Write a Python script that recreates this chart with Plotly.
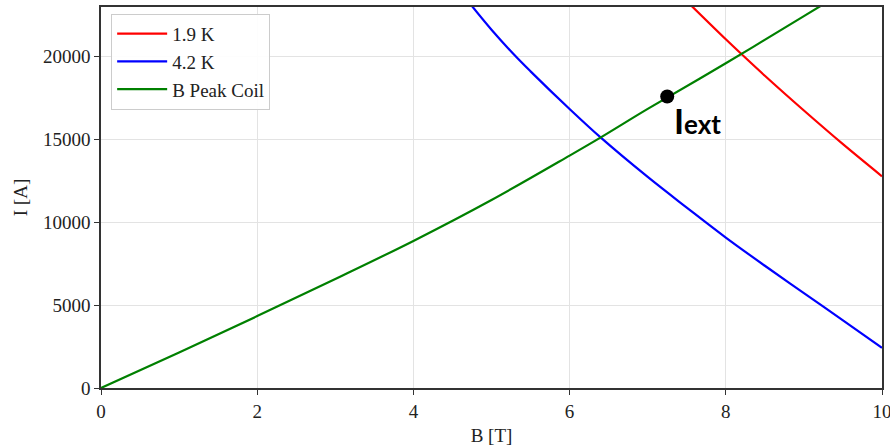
import plotly.graph_objects as go

# Critical current vs field for two temperatures, and the coil load line
b_19k = [7.5, 8.0, 8.2, 8.5, 9.0, 9.5, 10.0]
i_19k = [23350, 21050, 20160, 18850, 16750, 14720, 12780]

b_42k = [4.75, 5.0, 5.3, 5.5, 6.0, 6.4, 7.0, 7.5, 8.0, 8.5, 9.0, 9.5, 10.0]
i_42k = [23055, 21630, 20070, 19115, 16840, 15110, 12740, 10890, 9080, 7380, 5730, 4080, 2430]

b_coil = [0, 1, 2, 3, 4, 5, 6, 6.4, 7, 8, 9, 9.5]
i_coil = [0, 2150, 4340, 6580, 8880, 11350, 14030, 15130, 16850, 19600, 22450, 23880]

# Operating point on the load line
b_ext = [7.25]
i_ext = [17600]

x_ticks = [0, 2, 4, 6, 8, 10]
y_ticks = [0, 5000, 10000, 15000, 20000]

serif = "Liberation Serif"
ink = "#222222"

fig = go.Figure()
fig.add_trace(go.Scatter(x=b_19k, y=i_19k, mode="lines", name="1.9 K",
                         line=dict(color="#ff0000", width=2.2, shape="spline")))
fig.add_trace(go.Scatter(x=b_42k, y=i_42k, mode="lines", name="4.2 K",
                         line=dict(color="#0000ff", width=2.2, shape="spline")))
fig.add_trace(go.Scatter(x=b_coil, y=i_coil, mode="lines", name="B Peak Coil",
                         line=dict(color="#008000", width=2.2, shape="spline")))
fig.add_trace(go.Scatter(x=b_ext, y=i_ext, mode="markers", showlegend=False,
                         marker=dict(color="black", size=14)))

fig.add_annotation(x=b_ext[0], y=i_ext[0], xref="x", yref="y",
                   text="<b>I<span style='font-size:26px'>ext</span></b>",
                   showarrow=False, xanchor="left", yanchor="top",
                   xshift=5, yshift=-2,
                   font=dict(family="Lato", size=34, color="black"))

axis_common = dict(
    showline=True, linecolor="#333333", linewidth=1.5, mirror=True,
    ticks="outside", ticklen=5, tickwidth=1.3, tickcolor="#333333",
    showgrid=True, gridcolor="#e3e3e3", gridwidth=1,
    zeroline=False, automargin=False, ticklabeloverflow="allow",
    tickfont=dict(family=serif, size=19, color=ink),
)

fig.update_xaxes(range=[0, 10], tickvals=x_ticks,
                 title=dict(text="B [T]", font=dict(family=serif, size=19, color=ink),
                            standoff=8),
                 **axis_common)
fig.update_yaxes(range=[0, 23000], tickvals=y_ticks, tickformat="d",
                 title=dict(text="I [A]", font=dict(family=serif, size=19, color=ink),
                            standoff=10),
                 **axis_common)

fig.update_layout(
    width=890, height=448,
    margin=dict(l=101, r=8, t=7, b=60),
    paper_bgcolor="white", plot_bgcolor="white",
    legend=dict(x=0.013, y=0.982, xanchor="left", yanchor="top",
                bgcolor="rgba(255,255,255,0.9)", bordercolor="#cccccc", borderwidth=1,
                font=dict(family=serif, size=19, color=ink),
                tracegroupgap=0, itemwidth=50),
    showlegend=True,
)

fig.write_html("out.html")
